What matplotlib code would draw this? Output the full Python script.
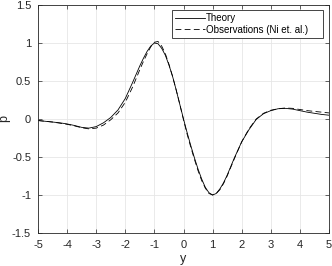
import matplotlib
matplotlib.use("Agg")
import matplotlib.pyplot as plt

y_vals = [-5, -4.75, -4.5, -4.25, -4, -3.75, -3.5, -3.25, -3, -2.75, -2.5, -2.25, -2,
          -1.75, -1.5, -1.375, -1.25, -1.125, -1, -0.875, -0.75, -0.625, -0.5, -0.375, -0.25, -0.125,
          0, 0.125, 0.25, 0.375, 0.5, 0.625, 0.75, 0.875, 1, 1.125, 1.25, 1.375, 1.5,
          1.75, 2, 2.25, 2.5, 2.75, 3, 3.25, 3.5, 3.75, 4, 4.25, 4.5, 4.75, 5]
theory = [-0.02, -0.03, -0.04, -0.05, -0.065, -0.085, -0.11, -0.12, -0.10, -0.05, 0.02, 0.12, 0.27,
          0.48, 0.70, 0.80, 0.89, 0.96, 1.0, 0.99, 0.93, 0.84, 0.71, 0.56, 0.38, 0.19,
          0.0, -0.18, -0.35, -0.51, -0.66, -0.79, -0.90, -0.97, -1.0, -0.98, -0.92, -0.84, -0.74,
          -0.51, -0.30, -0.14, -0.005, 0.07, 0.11, 0.135, 0.14, 0.13, 0.11, 0.09, 0.075, 0.06, 0.05]
observations = [-0.02, -0.03, -0.04, -0.055, -0.07, -0.09, -0.115, -0.13, -0.12, -0.08, -0.01, 0.08, 0.22,
                0.42, 0.65, 0.76, 0.86, 0.95, 1.01, 1.02, 0.96, 0.86, 0.72, 0.56, 0.38, 0.19,
                -0.01, -0.20, -0.37, -0.53, -0.68, -0.81, -0.91, -0.98, -1.0, -0.98, -0.93, -0.85, -0.75,
                -0.52, -0.30, -0.13, 0.0, 0.075, 0.115, 0.135, 0.145, 0.14, 0.125, 0.11, 0.10, 0.09, 0.08]
x_ticks = [-5, -4, -3, -2, -1, 0, 1, 2, 3, 4, 5]
y_ticks = [-1.5, -1, -0.5, 0, 0.5, 1, 1.5]
y_tick_labels = ["-1.5", "-1", "-0.5", "0", "0.5", "1", "1.5"]

plt.rcParams['font.family'] = ['Liberation Sans', 'DejaVu Sans']
plt.rcParams['axes.unicode_minus'] = False
fig = plt.figure(figsize=(3.32, 2.66), dpi=100)
ax = fig.add_axes([38/332, 1-233/266, (329-38)/332, (233-5)/266])

ax.plot(y_vals, theory, color='black', lw=0.6, label='Theory')
ax.plot(y_vals, observations, color='black', lw=0.6, ls=(0, (7, 4)), label='Observations (Ni et. al.)')

ax.set_xlim(-5, 5)
ax.set_ylim(-1.5, 1.5)
ax.set_xticks(x_ticks)
ax.set_xticklabels([str(t) for t in x_ticks])
ax.set_yticks(y_ticks)
ax.set_yticklabels(y_tick_labels)
ax.grid(True, color='#e6e6e6', lw=0.6)
ax.set_axisbelow(True)
ax.tick_params(direction='in', length=3, width=0.5, labelsize=8, colors='#262626',
               top=True, right=True, pad=5)
for s in ax.spines.values():
    s.set_color('#262626')
    s.set_linewidth(0.6)
ax.set_xlabel('y', fontsize=9, color='#262626', labelpad=2)
ax.set_ylabel('p', fontsize=9, color='#262626', labelpad=1)

leg = ax.legend(loc='upper left', bbox_to_anchor=(0.4605, 0.5, 0.519, 0.478), mode='expand',
                fontsize=7, frameon=True, fancybox=False,
                edgecolor='#262626', framealpha=1, handlelength=3.0, borderpad=0.35,
                labelspacing=0.15, handletextpad=0.1, borderaxespad=0.0)
leg.get_frame().set_linewidth(0.6)

fig.savefig('out.png', dpi=100)
